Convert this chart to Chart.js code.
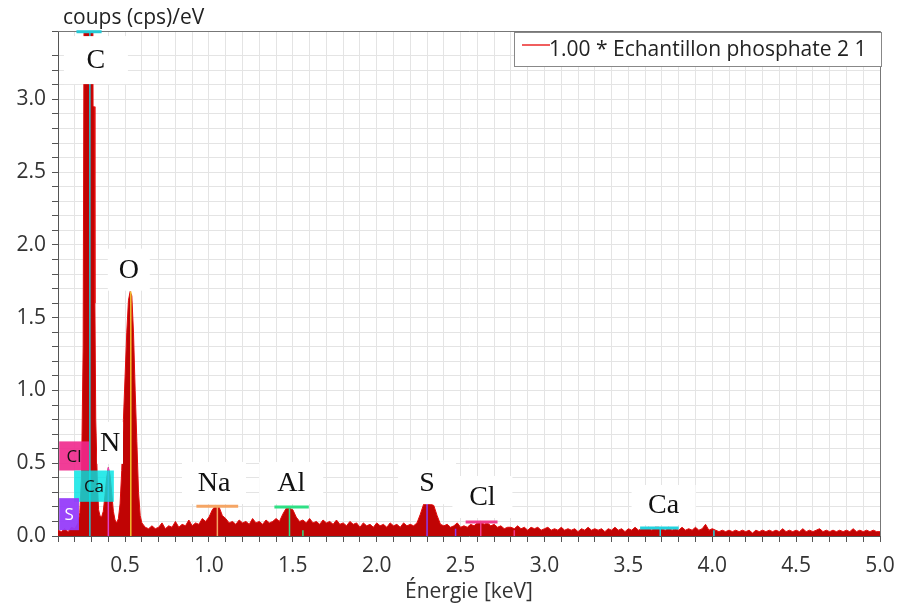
<!DOCTYPE html>
<html lang="fr">
<head>
<meta charset="utf-8">
<title>Spectre EDS - Echantillon phosphate 2 1</title>
<script src="https://cdn.jsdelivr.net/npm/chart.js@4.4.1/dist/chart.umd.min.js"></script>
<style>
  html, body { margin: 0; padding: 0; background: #fff; }
  #graphique { display: block; }
</style>
</head>
<body>
<canvas id="graphique" width="900" height="606"></canvas>
<script>
// Spectre (keV / coups par eV)
const energies = [
  0.10, 0.12, 0.14, 0.16, 0.18, 0.20, 0.22, 0.23, 0.24, 0.25, 0.255, 0.308, 0.309, 0.316, 0.32, 0.325, 0.335, 0.342,
  0.35, 0.36, 0.37, 0.38, 0.39, 0.40, 0.41, 0.42, 0.43, 0.44, 0.45, 0.46, 0.47, 0.48, 0.49, 0.50,
  0.51, 0.52, 0.53, 0.54, 0.55, 0.56, 0.57, 0.58, 0.59, 0.60,
  0.62, 0.64, 0.66, 0.68, 0.70, 0.72, 0.74, 0.76, 0.78, 0.80, 0.82, 0.84, 0.86, 0.88, 0.90,
  0.92, 0.94, 0.96, 0.98, 1.00, 1.02, 1.04, 1.06, 1.08, 1.10, 1.12, 1.14, 1.16, 1.18, 1.20,
  1.22, 1.24, 1.26, 1.28, 1.30, 1.32, 1.34, 1.36, 1.38, 1.40, 1.42, 1.44, 1.46, 1.48, 1.50,
  1.52, 1.54, 1.56, 1.58, 1.60, 1.62, 1.64, 1.66, 1.68, 1.70, 1.72, 1.74, 1.76, 1.78, 1.80,
  1.82, 1.84, 1.86, 1.88, 1.90, 1.92, 1.94, 1.96, 1.98, 2.00, 2.02, 2.04, 2.06, 2.08, 2.10,
  2.12, 2.14, 2.16, 2.18, 2.20, 2.22, 2.24, 2.26, 2.28, 2.30, 2.32, 2.34, 2.36, 2.38, 2.40,
  2.42, 2.44, 2.46, 2.48, 2.50, 2.52, 2.54, 2.56, 2.58, 2.60, 2.62, 2.64, 2.66, 2.68, 2.70,
  2.72, 2.74, 2.76, 2.78, 2.80, 2.82, 2.84, 2.86, 2.88, 2.90, 2.92, 2.94, 2.96, 2.98, 3.00,
  3.02, 3.04, 3.06, 3.08, 3.10, 3.12, 3.14, 3.16, 3.18, 3.20, 3.22, 3.24, 3.26, 3.28, 3.30,
  3.32, 3.34, 3.36, 3.38, 3.40, 3.42, 3.44, 3.46, 3.48, 3.50, 3.52, 3.54, 3.56, 3.58, 3.60,
  3.62, 3.64, 3.66, 3.68, 3.70, 3.72, 3.74, 3.76, 3.78, 3.80, 3.82, 3.84, 3.86, 3.88, 3.90,
  3.92, 3.94, 3.96, 3.98, 4.00, 4.02, 4.04, 4.06, 4.08, 4.10, 4.12, 4.14, 4.16, 4.18, 4.20,
  4.22, 4.24, 4.26, 4.28, 4.30, 4.32, 4.34, 4.36, 4.38, 4.40, 4.42, 4.44, 4.46, 4.48, 4.50,
  4.52, 4.54, 4.56, 4.58, 4.60, 4.62, 4.64, 4.66, 4.68, 4.70, 4.72, 4.74, 4.76, 4.78, 4.80,
  4.82, 4.84, 4.86, 4.88, 4.90, 4.92, 4.94, 4.96, 4.98, 5.00
];
const coups = [
  0.04, 0.03, 0.05, 0.03, 0.06, 0.05, 0.09, 0.16, 0.40, 1.30, 3.50, 3.50, 2.95, 2.95, 1.60, 0.80, 0.35, 0.18,
  0.14, 0.13, 0.17, 0.28, 0.40, 0.47, 0.42, 0.30, 0.17, 0.11, 0.09, 0.12, 0.22, 0.45, 0.80, 1.10,
  1.40, 1.62, 1.68, 1.65, 1.40, 1.00, 0.65, 0.30, 0.14, 0.09,
  0.06, 0.05, 0.07, 0.05, 0.06, 0.09, 0.05, 0.07, 0.06, 0.10, 0.06, 0.08, 0.07, 0.11, 0.07,
  0.09, 0.08, 0.12, 0.10, 0.13, 0.18, 0.21, 0.20, 0.14, 0.12, 0.09, 0.10, 0.08, 0.11, 0.09,
  0.10, 0.08, 0.12, 0.09, 0.10, 0.08, 0.11, 0.09, 0.10, 0.12, 0.10, 0.15, 0.19, 0.19, 0.18,
  0.13, 0.10, 0.11, 0.09, 0.12, 0.09, 0.10, 0.08, 0.11, 0.09, 0.10, 0.08, 0.11, 0.08, 0.09,
  0.07, 0.10, 0.08, 0.09, 0.06, 0.09, 0.07, 0.08, 0.06, 0.09, 0.07, 0.08, 0.06, 0.09, 0.07,
  0.08, 0.06, 0.09, 0.07, 0.08, 0.07, 0.09, 0.15, 0.22, 0.22, 0.22, 0.21, 0.14, 0.08, 0.07,
  0.08, 0.06, 0.07, 0.09, 0.06, 0.07, 0.06, 0.08, 0.07, 0.09, 0.10, 0.08, 0.09, 0.07, 0.08,
  0.06, 0.07, 0.05, 0.06, 0.06, 0.05, 0.07, 0.05, 0.06, 0.04, 0.06, 0.05, 0.06, 0.04, 0.05,
  0.06, 0.04, 0.05, 0.04, 0.06, 0.04, 0.05, 0.04, 0.05, 0.03, 0.05, 0.04, 0.06, 0.04, 0.05,
  0.04, 0.05, 0.03, 0.05, 0.04, 0.06, 0.04, 0.05, 0.03, 0.05, 0.04, 0.06, 0.04, 0.05, 0.05,
  0.06, 0.04, 0.06, 0.06, 0.05, 0.04, 0.06, 0.04, 0.05, 0.04, 0.06, 0.04, 0.05, 0.04, 0.06,
  0.04, 0.05, 0.08, 0.04, 0.05, 0.04, 0.03, 0.04, 0.03, 0.04, 0.03, 0.04, 0.03, 0.04, 0.03,
  0.04, 0.02, 0.04, 0.03, 0.04, 0.03, 0.04, 0.03, 0.04, 0.03, 0.05, 0.03, 0.04, 0.03, 0.04,
  0.03, 0.05, 0.03, 0.04, 0.03, 0.04, 0.05, 0.03, 0.04, 0.03, 0.04, 0.03, 0.04, 0.03, 0.04,
  0.03, 0.05, 0.03, 0.04, 0.03, 0.04, 0.03, 0.04, 0.03, 0.03
];

// Raies des éléments (traits verticaux dans les pics)
const raieElement = ['C', 'N', 'O', 'Na', 'Al', 'Al', 'S', 'S', 'Cl', 'Cl', 'Ca', 'Ca'];
const raieEnergie = [0.29, 0.40, 0.534, 1.05, 1.48, 1.56, 2.30, 2.47, 2.62, 2.82, 3.69, 4.01];
const raieHauteur = [3.5, 0.47, 1.68, 0.20, 0.19, 0.04, 0.22, 0.05, 0.09, 0.04, 0.05, 0.04];

// Graduations
const axeX = { min: 0.1, max: 5.0, pas: 0.1 };
const axeY = { min: 0, max: 3.47, pas: 0.1 };

const couleurs = {
  C: '#25c9d6', N: '#e23fc8', O: '#f2c230', Na: '#f5a564',
  Al: '#2fe085', S: '#8a3cf0', Cl: '#f03c8c', Ca: '#22d4e0'
};

// Étiquettes des éléments (position en keV / cps, taille de la boîte en px)
const etiquettes = [
  { nom: 'C',  e: 0.326, v: 3.27,  larg: 64, haut: 48, trait: [0.21, 0.36, 3.465] },
  { nom: 'N',  e: 0.41,  v: 0.64,  larg: 26, haut: 42 },
  { nom: 'O',  e: 0.522, v: 1.83,  larg: 42, haut: 42 },
  { nom: 'Na', e: 1.03,  v: 0.364, larg: 64, haut: 42, trait: [0.925, 1.174, 0.205] },
  { nom: 'Al', e: 1.49,  v: 0.364, larg: 64, haut: 42, trait: [1.39, 1.595, 0.20] },
  { nom: 'S',  e: 2.30,  v: 0.37,  larg: 58, haut: 44 },
  { nom: 'Cl', e: 2.63,  v: 0.268, larg: 60, haut: 42, trait: [2.53, 2.72, 0.096] },
  { nom: 'Ca', e: 3.71,  v: 0.213, larg: 64, haut: 40, trait: [3.57, 3.80, 0.055] }
];

const pastilles = [
  { nom: 'Cl', e0: 0.107, e1: 0.285, v0: 0.45,  v1: 0.65, fond: 'rgba(240,40,140,0.9)', texte: '#111' },
  { nom: 'Ca', e0: 0.196, e1: 0.433, v0: 0.235, v1: 0.45, fond: 'rgba(0,228,228,0.82)', texte: '#111' },
  { nom: 'S',  e0: 0.107, e1: 0.225, v0: 0.04,  v1: 0.26, fond: 'rgba(150,60,250,0.95)', texte: '#fff' }
];

const police = '"Open Sans", "DejaVu Sans", sans-serif';
const estMajeur = v => Math.abs(v * 2 - Math.round(v * 2)) < 1e-6;

const spectre = energies.map((e, i) => ({ x: e, y: coups[i] }));

const datasetsRaies = raieEnergie.map((e, i) => ({
  label: raieElement[i],
  data: [{ x: e, y: 0 }, { x: e, y: raieHauteur[i] }],
  borderColor: couleurs[raieElement[i]],
  borderWidth: 1.5,
  pointRadius: 0,
  fill: false,
  order: 0
}));

// Dessin des étiquettes, du titre et de la légende
const decorations = {
  id: 'decorations',
  afterDatasetsDraw(chart) {
    const { ctx, chartArea, scales } = chart;
    const sx = scales.x, sy = scales.y;
    ctx.save();

    // cadre haut et droite
    ctx.strokeStyle = '#777';
    ctx.lineWidth = 1;
    ctx.beginPath();
    ctx.moveTo(chartArea.left, chartArea.top + 0.5);
    ctx.lineTo(chartArea.right + 0.5, chartArea.top + 0.5);
    ctx.lineTo(chartArea.right + 0.5, chartArea.bottom);
    ctx.stroke();

    // boîtes blanches + noms des éléments
    ctx.font = '28px "Liberation Serif", "DejaVu Serif", serif';
    ctx.textAlign = 'center';
    ctx.textBaseline = 'middle';
    etiquettes.forEach(et => {
      const px = sx.getPixelForValue(et.e);
      const py = sy.getPixelForValue(et.v);
      ctx.fillStyle = '#fff';
      ctx.fillRect(px - et.larg / 2, py - et.haut / 2, et.larg, et.haut);
      ctx.fillStyle = '#111';
      ctx.fillText(et.nom, px, py + 1);
      if (et.trait) {
        ctx.strokeStyle = couleurs[et.nom];
        ctx.lineWidth = 3;
        ctx.beginPath();
        ctx.moveTo(sx.getPixelForValue(et.trait[0]), sy.getPixelForValue(et.trait[2]));
        ctx.lineTo(sx.getPixelForValue(et.trait[1]), sy.getPixelForValue(et.trait[2]));
        ctx.stroke();
      }
    });

    // pastilles colorées à gauche
    ctx.font = '17px ' + police;
    pastilles.forEach(p => {
      const x0 = sx.getPixelForValue(p.e0), x1 = sx.getPixelForValue(p.e1);
      const y0 = sy.getPixelForValue(p.v1), y1 = sy.getPixelForValue(p.v0);
      ctx.fillStyle = p.fond;
      ctx.fillRect(x0, y0, x1 - x0, y1 - y0);
      ctx.fillStyle = p.texte;
      ctx.fillText(p.nom, (x0 + x1) / 2, (y0 + y1) / 2 + 1);
    });

    // titre de l'axe vertical
    ctx.fillStyle = '#222';
    ctx.textAlign = 'left';
    ctx.font = '21px ' + police;
    ctx.fillText('coups (cps)/eV', 63, 18);

    // légende
    const lx = 514, ly = 32, lw = 367, lh = 34;
    ctx.fillStyle = '#fff';
    ctx.fillRect(lx, ly, lw, lh);
    ctx.strokeStyle = '#888';
    ctx.lineWidth = 1;
    ctx.strokeRect(lx + 0.5, ly + 0.5, lw, lh);
    ctx.strokeStyle = 'rgb(235,40,40)';
    ctx.lineWidth = 1.5;
    ctx.beginPath();
    ctx.moveTo(lx + 8, ly + 13);
    ctx.lineTo(lx + 36, ly + 13);
    ctx.stroke();
    ctx.fillStyle = '#222';
    ctx.fillText(chart.data.datasets[0].label, lx + 35, ly + lh / 2 + 1);

    ctx.restore();
  }
};

const ctx = document.getElementById('graphique').getContext('2d');
new Chart(ctx, {
  type: 'line',
  data: {
    datasets: [
      {
        label: '1.00 * Echantillon phosphate 2 1',
        data: spectre,
        borderColor: 'rgb(225,10,10)',
        backgroundColor: 'rgb(192,4,4)',
        borderWidth: 1,
        pointRadius: 0,
        fill: 'origin',
        order: 1
      },
      ...datasetsRaies
    ]
  },
  options: {
    responsive: false,
    animation: false,
    layout: { padding: { top: 31, right: 20, left: 0, bottom: 0 } },
    plugins: {
      legend: { display: false },
      tooltip: { enabled: false }
    },
    scales: {
      x: {
        type: 'linear',
        min: axeX.min,
        max: axeX.max,
        afterFit: s => { s.height = 70; s.paddingLeft = 0; s.paddingRight = 0; },
        ticks: {
          stepSize: axeX.pas,
          autoSkip: false,
          maxRotation: 0,
          padding: 11,
          color: '#333',
          font: { family: police, size: 21 },
          callback: v => estMajeur(v) ? v.toFixed(1) : ''
        },
        grid: { color: '#e4e4e4', tickColor: '#555', tickLength: 6 },
        border: { color: '#555' },
        title: {
          display: true,
          text: 'Énergie [keV]',
          color: '#333',
          font: { family: police, size: 21 },
          padding: { top: 0, bottom: 1 }
        }
      },
      y: {
        min: axeY.min,
        max: axeY.max,
        afterFit: s => { s.width = 58; s.paddingTop = 0; s.paddingBottom = 0; },
        ticks: {
          stepSize: axeY.pas,
          autoSkip: false,
          padding: 6,
          color: '#333',
          font: { family: police, size: 21 },
          callback: v => estMajeur(v) ? v.toFixed(1) : ''
        },
        grid: { color: '#e4e4e4', tickColor: '#555', tickLength: 6 },
        border: { color: '#555' }
      }
    }
  },
  plugins: [decorations]
});
</script>
</body>
</html>
